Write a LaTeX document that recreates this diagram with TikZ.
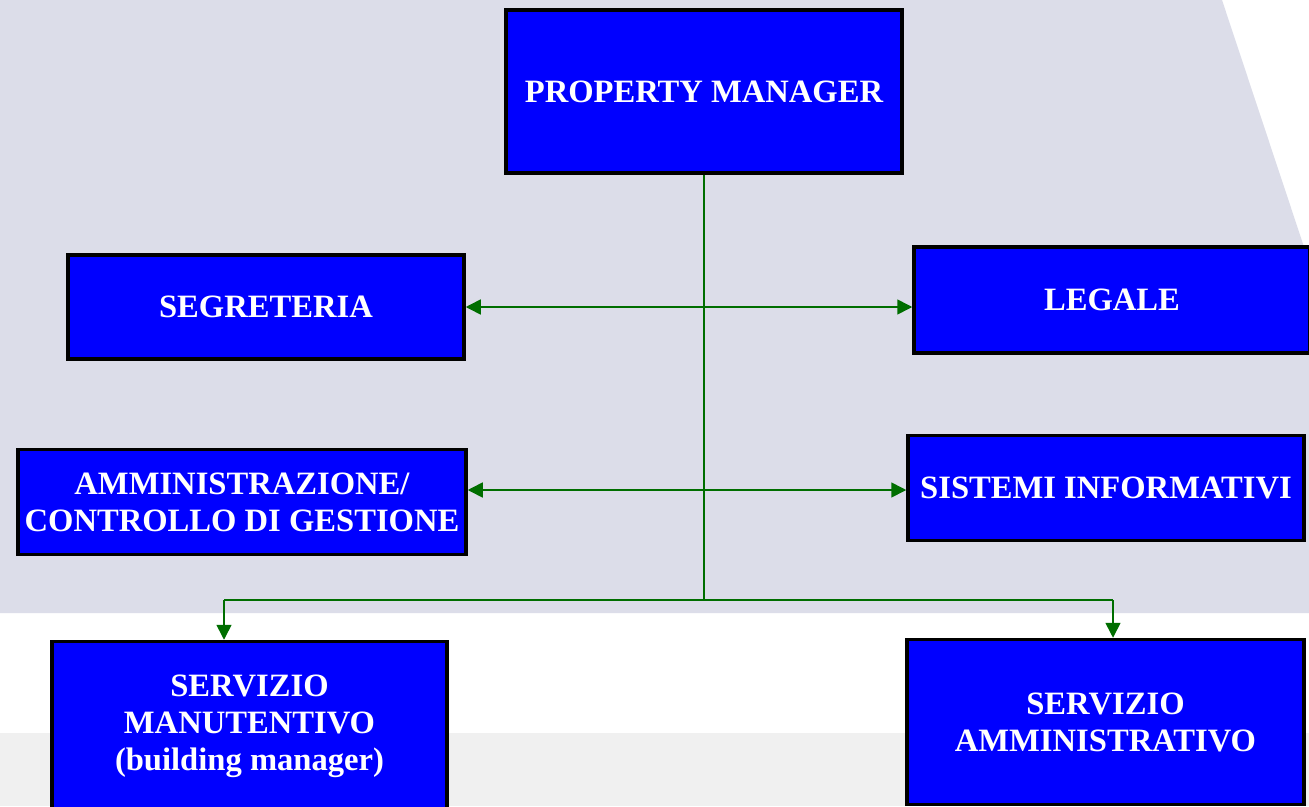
\documentclass[tikz,border=0pt]{standalone}
\usepackage{fontspec}
\setmainfont{Liberation Serif}
\usetikzlibrary{arrows.meta}
\definecolor{bgpanel}{RGB}{220,221,233}
\definecolor{bgband}{RGB}{240,240,240}
\definecolor{boxblue}{RGB}{0,0,255}
\definecolor{linkgreen}{RGB}{0,110,0}

\begin{document}
\begin{tikzpicture}[
  x=1pt, y=-1pt,
  box/.style={draw=black, line width=3.5pt, fill=boxblue, text=white, align=center,
              inner sep=0pt, font=\fontsize{32.6}{37}\selectfont\bfseries},
  link/.style={draw=linkgreen, line width=1.6pt},
  arrow/.style={link, -{Triangle[length=15pt,width=15pt]}},
  both/.style={link, {Triangle[length=15pt,width=15pt]}-{Triangle[length=15pt,width=15pt]}},
]
\useasboundingbox (0,0) rectangle (1309,806);
\clip (0,0) rectangle (1309,806);
\fill[white] (0,0) rectangle (1309,806);
\fill[bgpanel] (0,0) -- (1222,0) -- (1309,262) -- (1309,613) -- (0,613) -- cycle;
\fill[bgband] (0,733) rectangle (1309,806);

\node[box, minimum width=396pt, minimum height=163pt] (pm) at (704,91.5) {PROPERTY MANAGER};
\node[box, minimum width=396pt, minimum height=104pt] (segr) at (266,307) {SEGRETERIA};
\node[box, minimum width=396pt, minimum height=106pt] (legale) at (1112,300) {LEGALE};
\node[box, minimum width=448pt, minimum height=105pt] (amm) at (242,502) {AMMINISTRAZIONE/\\CONTROLLO DI GESTIONE};
\node[box, minimum width=396pt, minimum height=105pt] (sistemi) at (1106,488) {SISTEMI INFORMATIVI};
\node[box, minimum width=395pt, minimum height=169pt] (manut) at (249.5,726) {SERVIZIO\\MANUTENTIVO\\(building manager)};
\node[box, minimum width=397pt, minimum height=165pt] (servamm) at (1105.5,722) {SERVIZIO\\AMMINISTRATIVO};

\coordinate (hub) at (704,600);
\coordinate (jsegr) at (704,307);
\coordinate (jsist) at (704,490);
\coordinate (lmanut) at (224,600);
\coordinate (lservamm) at (1113,600);

\draw[link] (pm.south) -- (hub);
\draw[arrow] (jsegr) -- (segr.east);
\draw[arrow] (jsegr) -- (jsegr -| legale.west);
\draw[both] (amm.east |- jsist) -- (sistemi.west |- jsist);
\draw[link] (lmanut) -- (lservamm);
\draw[arrow] (lmanut) -- (lmanut |- manut.north);
\draw[arrow] (lservamm) -- (lservamm |- servamm.north);
\end{tikzpicture}
\end{document}
